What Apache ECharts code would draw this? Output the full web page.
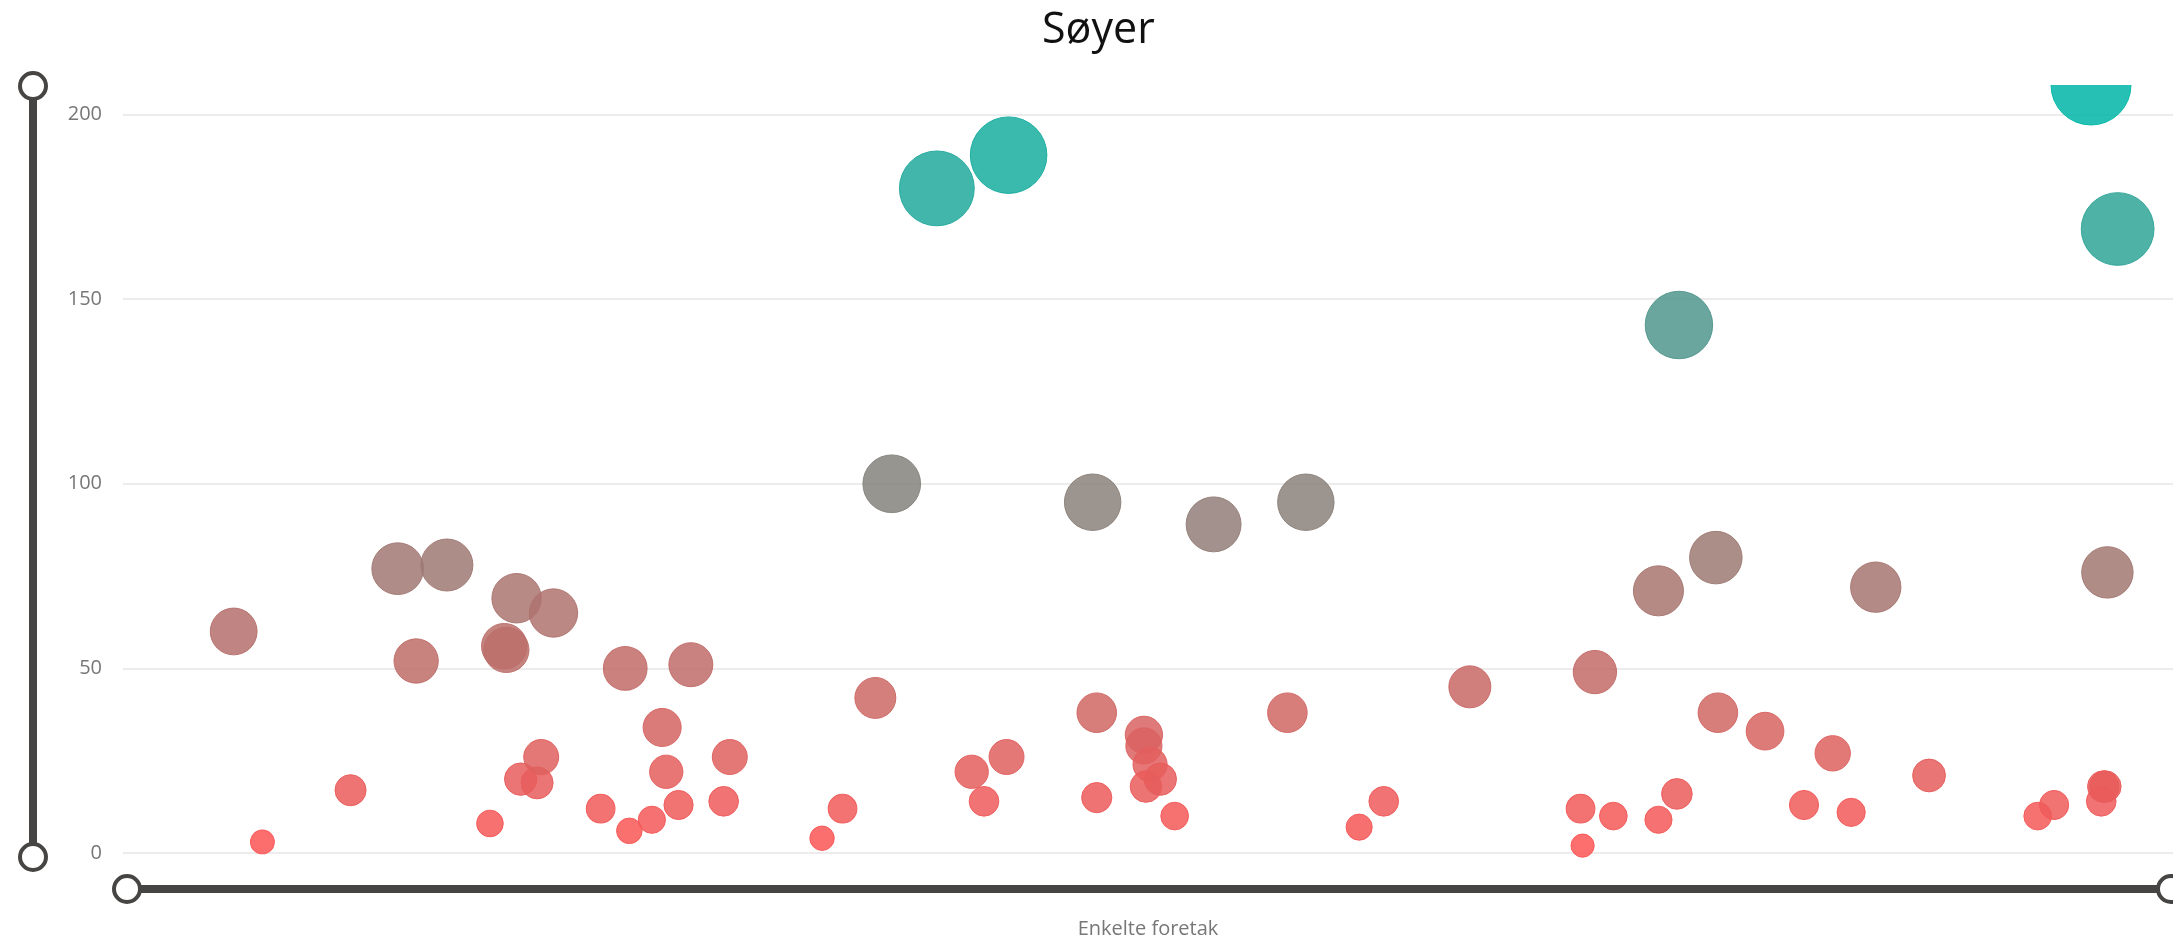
<!DOCTYPE html>
<html>
<head>
<meta charset="utf-8">
<title>Søyer</title>
<script src="https://cdn.jsdelivr.net/npm/echarts@6/dist/echarts.min.js"></script>
<style>
  html, body { margin: 0; padding: 0; background: #ffffff; }
  #chart { width: 2173px; height: 938px; }
</style>
</head>
<body>
<div id="chart"></div>
<script>
// Horizontal position of each company (0-100 along the axis)
const xPos = [
  5.4, 6.8, 11.1, 13.4, 14.3, 15.8, 17.9, 18.6, 18.7, 19.2,
  19.4, 20.2, 20.4, 21.0, 23.3, 24.5, 24.7, 25.8, 26.3, 26.5,
  27.1, 27.7, 29.3, 29.6, 34.1, 35.1, 36.7, 37.5, 39.7, 41.4,
  42.0, 43.1, 43.2, 47.3, 47.5, 47.5, 49.8, 49.8, 50.1, 49.9,
  50.6, 51.3, 53.2, 56.8, 57.7, 60.3, 61.5, 65.7, 71.1, 71.2,
  71.8, 72.7, 74.9, 74.9, 75.8, 75.9, 77.7, 77.8, 80.1, 82.0,
  83.4, 84.3, 85.5, 88.1, 93.4, 94.2, 96.0, 96.5, 96.6, 96.7,
  96.8, 97.3
];

// Value for each company
const values = [
  60, 3, 17, 77, 52, 78, 8, 56, 55, 69,
  20, 19, 26, 65, 12, 50, 6, 9, 34, 22,
  13, 51, 14, 26, 4, 12, 42, 100, 180, 22,
  14, 26, 189, 95, 38, 15, 32, 29, 24, 18,
  20, 10, 89, 38, 95, 7, 14, 45, 12, 2,
  49, 10, 9, 71, 16, 143, 80, 38, 33, 13,
  27, 11, 72, 21, 10, 13, 208, 14, 18, 18,
  76, 169
];

const yTicks = [0, 50, 100, 150, 200];

const FONT = '"Open Sans", "Noto Sans", sans-serif';
const LOW = [255, 84, 84];
const HIGH = [0, 182, 167];
const vMax = Math.max.apply(null, values);

function mix(t, alpha) {
  const c = LOW.map((lo, k) => Math.round(lo + (HIGH[k] - lo) * t));
  return 'rgba(' + c[0] + ',' + c[1] + ',' + c[2] + ',' + alpha + ')';
}

const points = xPos.map((x, i) => {
  const t = values[i] / vMax;
  return {
    value: [x, values[i]],
    itemStyle: { color: mix(t, 0.85), borderColor: mix(t, 0.95), borderWidth: 1 }
  };
});

const chart = echarts.init(document.getElementById('chart'), null, { renderer: 'canvas' });

const sliderCommon = {
  type: 'slider',
  filterMode: 'none',
  start: 0,
  end: 100,
  backgroundColor: 'transparent',
  borderColor: 'transparent',
  fillerColor: '#474543',
  showDetail: false,
  showDataShadow: false,
  brushSelect: false,
  moveHandleSize: 0,
  dataBackground: { lineStyle: { opacity: 0 }, areaStyle: { opacity: 0 } },
  selectedDataBackground: { lineStyle: { opacity: 0 }, areaStyle: { opacity: 0 } },
  handleIcon: 'circle',
  handleSize: 26,
  handleStyle: { color: '#ffffff', borderColor: '#474543', borderWidth: 4 },
  emphasis: { handleStyle: { color: '#ffffff', borderColor: '#474543', borderWidth: 4 } }
};

chart.setOption({
  animation: false,
  backgroundColor: '#ffffff',
  title: {
    text: 'Søyer',
    left: 1037,
    top: 4,
    padding: 5,
    z: 20,
    textStyle: { fontFamily: FONT, fontSize: 43, fontWeight: 'normal', color: '#111111' }
  },
  // White band above the plot so bubbles are cut at the plot's top edge
  graphic: [{
    type: 'rect',
    z: 10,
    silent: true,
    shape: { x: 60, y: 0, width: 2113, height: 85 },
    style: { fill: '#ffffff' }
  }],
  grid: { left: 123, right: 0, top: 85, bottom: 85, containLabel: false, outerBoundsMode: 'none' },
  xAxis: {
    type: 'value',
    min: 0,
    max: 100,
    name: 'Enkelte foretak',
    nameLocation: 'middle',
    nameGap: 66,
    nameTextStyle: { fontFamily: FONT, fontSize: 20, color: '#777777' },
    axisLine: { show: false },
    axisTick: { show: false },
    axisLabel: { show: false },
    splitLine: { show: false }
  },
  yAxis: {
    type: 'value',
    min: 0,
    max: 'dataMax',
    interval: 50,
    axisLine: { show: false },
    axisTick: { show: false },
    axisLabel: {
      fontFamily: FONT,
      fontSize: 20,
      color: '#777777',
      margin: 21,
      formatter: (v) => (yTicks.indexOf(v) >= 0 ? String(v) : '')
    },
    splitLine: { showMaxLine: false, lineStyle: { color: '#e6e6e6', width: 1.5 } }
  },
  dataZoom: [
    Object.assign({}, sliderCommon, {
      xAxisIndex: 0,
      orient: 'horizontal',
      left: 123,
      right: 4,
      top: 885,
      height: 8
    }),
    Object.assign({}, sliderCommon, {
      yAxisIndex: 0,
      orient: 'vertical',
      left: 27,
      width: 8,
      top: 85,
      bottom: 80
    })
  ],
  series: [{
    type: 'scatter',
    clip: true,
    data: points,
    itemStyle: { opacity: 1 },
    symbolSize: (val) => Math.sqrt(482 + 28.45 * val[1])
  }]
});
</script>
</body>
</html>
